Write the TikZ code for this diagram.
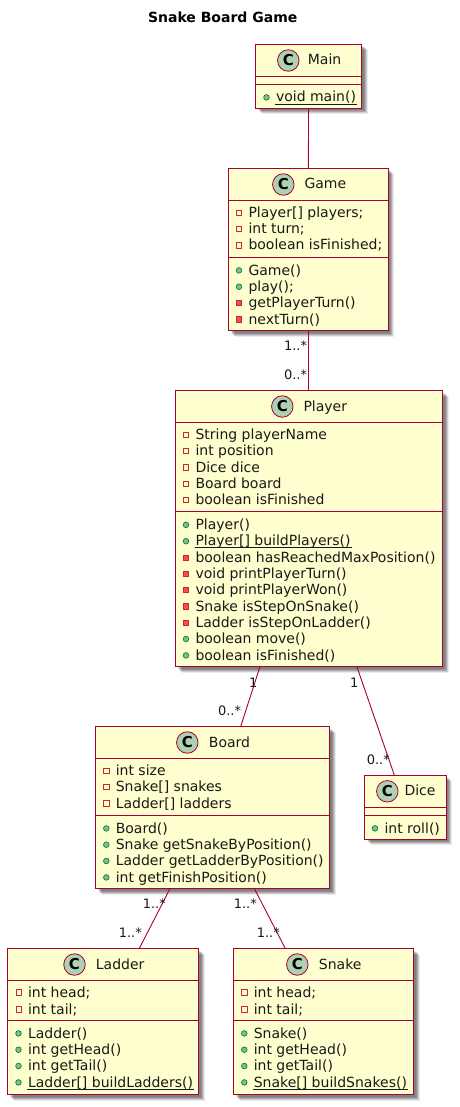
\documentclass[tikz,border=0pt]{standalone}
\usepackage{fontspec}
\setmainfont{DejaVu Sans}
\usetikzlibrary{calc}
\definecolor{umlline}{HTML}{A80036}
\definecolor{umlfill}{HTML}{FEFECE}
\definecolor{umlspot}{HTML}{ADD1B2}
\definecolor{pubedge}{HTML}{038048}
\definecolor{pubfill}{HTML}{84BE84}
\definecolor{privedge}{HTML}{C82930}
\definecolor{privfill}{HTML}{F24D5C}
\tikzset{
  x=1pt,y=-1pt,
  classbox/.style={draw=umlline,fill=umlfill,line width=1pt,inner sep=0pt,outer sep=0pt,rectangle},
  classsep/.style={draw=umlline,line width=.9pt},
  assoc/.style={draw=umlline,line width=.9pt},
  spot/.style={circle,draw=umlline,fill=umlspot,line width=.8pt,minimum size=21.5pt,inner sep=0pt},
  spotc/.style={inner sep=0pt,font=\fontsize{15}{15}\selectfont\bfseries,text=black},
  cname/.style={anchor=base west,inner sep=0pt,font=\fontsize{14}{14}\selectfont,text=black!90},
  member/.style={anchor=base west,inner sep=0pt,font=\fontsize{14}{14}\selectfont,text=black!90},
  mult/.style={anchor=base east,inner sep=0pt,font=\fontsize{13}{13}\selectfont,text=black!90},
  pubm/.style={circle,draw=pubedge,fill=pubfill,line width=.7pt,minimum size=5.6pt,inner sep=0pt},
  privm/.style={rectangle,draw=privedge,fill=privfill,line width=.7pt,minimum size=5.2pt,inner sep=0pt},
  privf/.style={rectangle,draw=privedge,fill=none,line width=.7pt,minimum size=5.2pt,inner sep=0pt},
}
\newcounter{mem}
\newsavebox\ulbox
\newcommand\ul[1]{\sbox\ulbox{#1}\rlap{\hspace*{-1pt}\rule[-2.4pt]{\dimexpr\wd\ulbox+2pt\relax}{.8pt}}#1}
% id x1 y1 x2 y2 sep1 sep2 spotx titlex
\newcommand\umlclass[9]{%
  \foreach \d/\o in {2/.10,3/.16,4/.16,5/.13,6/.08}{
    \fill[black,opacity=\o] ({#2+\d},{#3+\d}) rectangle ({#4+\d},{#5+\d});
  }
  \node[classbox,minimum width={(#4-(#2))*1pt},minimum height={(#5-(#3))*1pt}] (#1) at ({(#2+#4)/2},{(#3+#5)/2}) {};
  \draw[classsep] (#2,#6) -- (#4,#6) (#2,#7) -- (#4,#7);
  \node[spot] (#1spot) at (#8,{#3+16}) {};
  \node[spotc] (#1spotc) at (#8,{#3+16}) {C};
  \node[cname] (#1name) at (#9,{#3+20.5}) {\csname title#1\endcsname};
}
\newcommand\mem[4]{%
  \stepcounter{mem}%
  \node[#1] (icon\themem) at (#2,{#3-4.6}) {};
  \node[member] (text\themem) at ({#2+9.3},#3) {#4};
}
\def\titleMain{Main}\def\titleGame{Game}\def\titlePlayer{Player}\def\titleBoard{Board}
\def\titleDice{Dice}\def\titleLadder{Ladder}\def\titleSnake{Snake}
\begin{document}
\begin{tikzpicture}
\useasboundingbox (0,0) rectangle (459,1107);
\node[anchor=base,inner sep=0pt,font=\fontsize{14}{14}\selectfont\bfseries] (title) at (222.7,22.8) {Snake Board Game};

\umlclass{Main}{255.5}{44.5}{361.5}{108.5}{76.5}{84}{288.3}{307.7}
\mem{pubm}{266.5}{102}{\ul{void main()}}

\umlclass{Game}{228.5}{168.5}{388.3}{330.5}{200.5}{257}{283.3}{304.3}
\mem{privf}{239}{217.5}{Player[] players;}
\mem{privf}{239}{233.8}{int turn;}
\mem{privf}{239}{250}{boolean isFinished;}
\mem{pubm}{239}{275}{Game()}
\mem{pubm}{239}{291.3}{play();}
\mem{privm}{239}{307.6}{getPlayerTurn()}
\mem{privm}{239}{324}{nextTurn()}

\umlclass{Player}{175.5}{390.5}{442.5}{666.5}{422.5}{511.5}{282.3}{303.3}
\mem{privf}{186}{439.3}{String playerName}
\mem{privf}{186}{455.6}{int position}
\mem{privf}{186}{472}{Dice dice}
\mem{privf}{186}{488.3}{Board board}
\mem{privf}{186}{504.6}{boolean isFinished}
\mem{pubm}{186}{529.5}{Player()}
\mem{pubm}{186}{545.8}{\ul{Player[] buildPlayers()}}
\mem{privm}{186}{562.1}{boolean hasReachedMaxPosition()}
\mem{privm}{186}{578.4}{void printPlayerTurn()}
\mem{privm}{186}{594.7}{void printPlayerWon()}
\mem{privm}{186}{611}{Snake isStepOnSnake()}
\mem{privm}{186}{627.3}{Ladder isStepOnLadder()}
\mem{pubm}{186}{643.6}{boolean move()}
\mem{pubm}{186}{660}{boolean isFinished()}

\umlclass{Board}{95.5}{726.5}{329.5}{888.5}{758.5}{815}{187.3}{208.7}
\mem{privf}{106.3}{775.5}{int size}
\mem{privf}{106.3}{791.8}{Snake[] snakes}
\mem{privf}{106.3}{808}{Ladder[] ladders}
\mem{pubm}{106.3}{833}{Board()}
\mem{pubm}{106.3}{849.3}{Snake getSnakeByPosition()}
\mem{pubm}{106.3}{865.6}{Ladder getLadderByPosition()}
\mem{pubm}{106.3}{882}{int getFinishPosition()}

\umlclass{Dice}{364.5}{775.3}{446.3}{839.3}{807.3}{815}{387.3}{404.3}
\mem{pubm}{375}{833}{int roll()}

\umlclass{Ladder}{7.5}{948.5}{198.5}{1094.5}{980}{1020}{74.5}{95.7}
\mem{privf}{18.5}{997}{int head;}
\mem{privf}{18.5}{1014}{int tail;}
\mem{pubm}{18.5}{1038}{Ladder()}
\mem{pubm}{18.5}{1054.3}{int getHead()}
\mem{pubm}{18.5}{1070.6}{int getTail()}
\mem{pubm}{18.5}{1087}{\ul{Ladder[] buildLadders()}}

\umlclass{Snake}{233.5}{948.5}{413.5}{1094.5}{980}{1020}{297.3}{318.7}
\mem{privf}{244.3}{997}{int head;}
\mem{privf}{244.3}{1014}{int tail;}
\mem{pubm}{244.3}{1038}{Snake()}
\mem{pubm}{244.3}{1054.3}{int getHead()}
\mem{pubm}{244.3}{1070.6}{int getTail()}
\mem{pubm}{244.3}{1087}{\ul{Snake[] buildSnakes()}}

\draw[assoc] (Main.south) -- (Game.north);
\draw[assoc] (Game.south) -- ([xshift=-.6pt]Player.north);
\draw[assoc] ([xshift=-49pt]Player.south) -- ([xshift=28.2pt]Board.north);
\draw[assoc] ([xshift=47.8pt]Player.south) -- ([xshift=-11pt]Dice.north);
\draw[assoc] ([xshift=-42.5pt]Board.south) -- ([xshift=36.3pt]Ladder.north);
\draw[assoc] ([xshift=41.8pt]Board.south) -- ([xshift=-38.2pt]Snake.north);

\node[mult] (m1) at (307.3,350.7) {1..*};
\node[mult] (m2) at (307.3,379) {0..*};
\node[mult] (m3) at (257.5,687) {1};
\node[mult] (m4) at (241.3,715) {0..*};
\node[mult] (m5) at (358.5,687) {1};
\node[mult] (m6) at (390,764.3) {0..*};
\node[mult] (m7) at (166,908) {1..*};
\node[mult] (m8) at (142,937) {1..*};
\node[mult] (m9) at (257,908.3) {1..*};
\node[mult] (m10) at (280,937.3) {1..*};
\end{tikzpicture}
\end{document}
